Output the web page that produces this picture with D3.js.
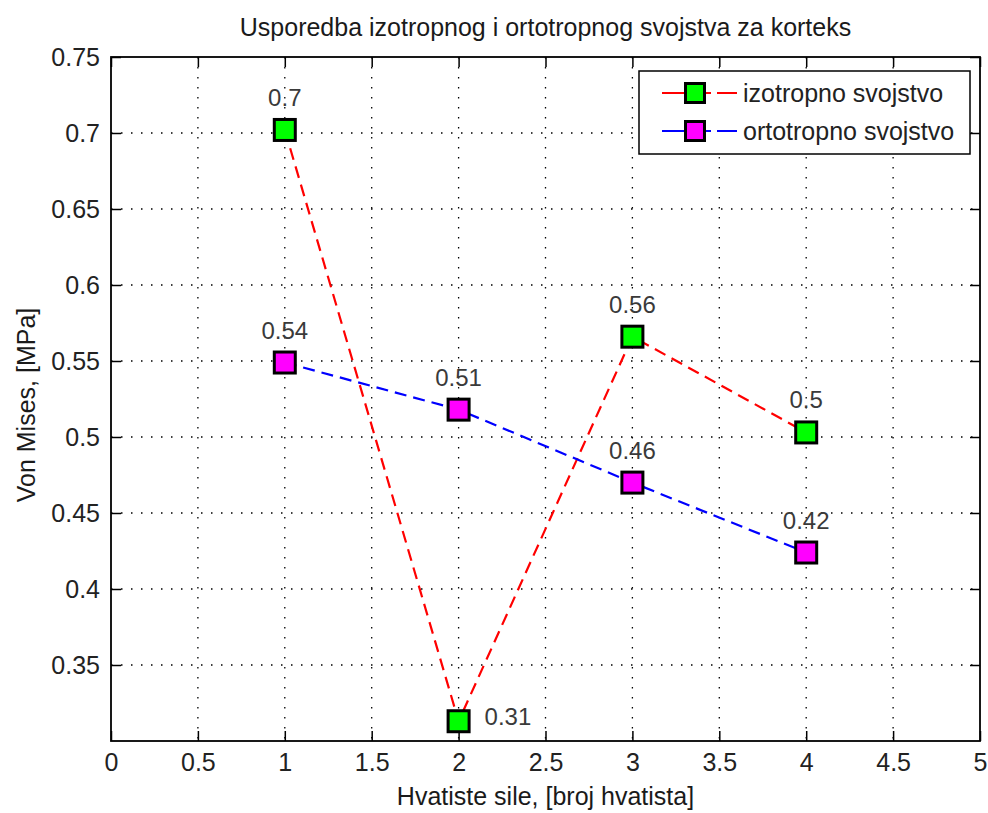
<!DOCTYPE html>
<html>
<head>
<meta charset="utf-8">
<script src="https://cdn.jsdelivr.net/npm/d3@7"></script>
<style>
  body { margin: 0; background: #fff; }
  text { font-family: "Liberation Sans", Arial, Helvetica, sans-serif; }
</style>
</head>
<body>
<div id="chart"></div>
<script>
// Data
const xs = [1, 2, 3, 4];
const izotropno = [0.702, 0.313, 0.566, 0.503];
const ortotropno = [0.549, 0.518, 0.470, 0.424];
const izoLabels = ["0.7", "0.31", "0.56", "0.5"];
const ortoLabels = ["0.54", "0.51", "0.46", "0.42"];
const xTicks = [0, 0.5, 1, 1.5, 2, 2.5, 3, 3.5, 4, 4.5, 5];
const yTicks = [0.35, 0.4, 0.45, 0.5, 0.55, 0.6, 0.65, 0.7, 0.75];
const seriesNames = ["izotropno svojstvo", "ortotropno svojstvo"];

const W = 988, H = 813;
const margin = { top: 57, right: 8, bottom: 72, left: 111 };
const width = W - margin.left - margin.right;
const height = H - margin.top - margin.bottom;

const x = d3.scaleLinear().domain([0, 5]).range([0, width]);
const y = d3.scaleLinear().domain([0.30, 0.75]).range([height, 0]);

const svg = d3.select("#chart").append("svg")
    .attr("width", W)
    .attr("height", H);

// Title
svg.append("text")
    .attr("x", margin.left + width / 2)
    .attr("y", 36)
    .attr("text-anchor", "middle")
    .style("font-size", "25px")
    .style("fill", "#1a1a1a")
    .text("Usporedba izotropnog i ortotropnog svojstva za korteks");

const g = svg.append("g")
    .attr("transform", `translate(${margin.left},${margin.top})`);

// Dotted grid
g.append("g").selectAll("line.gx")
  .data(xTicks.filter(t => t > 0 && t < 5))
  .join("line")
    .attr("x1", d => x(d)).attr("x2", d => x(d))
    .attr("y1", 0).attr("y2", height)
    .attr("stroke", "#000")
    .attr("stroke-width", 1.3)
    .attr("stroke-dasharray", "1.5,8.5");

g.append("g").selectAll("line.gy")
  .data(yTicks.filter(t => t < 0.75))
  .join("line")
    .attr("x1", 0).attr("x2", width)
    .attr("y1", d => y(d)).attr("y2", d => y(d))
    .attr("stroke", "#000")
    .attr("stroke-width", 1.3)
    .attr("stroke-dasharray", "1.5,8.5");

// Axes (ticks inward, on all four sides)
const tickLen = 10;
const fmt = d => String(d);

const xAxis = g.append("g")
    .attr("transform", `translate(0,${height})`)
    .call(d3.axisBottom(x).tickValues(xTicks).tickFormat(fmt).tickSizeInner(-tickLen).tickSizeOuter(0).tickPadding(12));
const xTop = g.append("g")
    .call(d3.axisTop(x).tickValues(xTicks).tickFormat("").tickSizeInner(-tickLen).tickSizeOuter(0));
const yAxis = g.append("g")
    .call(d3.axisLeft(y).tickValues(yTicks).tickFormat(fmt).tickSizeInner(-tickLen).tickSizeOuter(0).tickPadding(11));
const yRight = g.append("g")
    .attr("transform", `translate(${width},0)`)
    .call(d3.axisRight(y).tickValues(yTicks).tickFormat("").tickSizeInner(-tickLen).tickSizeOuter(0));

[xAxis, xTop, yAxis, yRight].forEach(a => {
  a.select(".domain").remove();
  a.selectAll("line").attr("stroke", "#000").attr("stroke-width", 1.5);
  a.selectAll("text").style("font-size", "25px").style("fill", "#222")
    .style("font-family", "'Liberation Sans', Arial, sans-serif");
});

// Axes box
g.append("rect")
    .attr("x", 0).attr("y", 0)
    .attr("width", width).attr("height", height)
    .attr("fill", "none")
    .attr("stroke", "#000")
    .attr("stroke-width", 1.8);

// Axis labels
svg.append("text")
    .attr("x", margin.left + width / 2)
    .attr("y", 805)
    .attr("text-anchor", "middle")
    .style("font-size", "25px")
    .style("fill", "#1a1a1a")
    .text("Hvatiste sile, [broj hvatista]");

svg.append("text")
    .attr("transform", `translate(35,${margin.top + height / 2 + 6}) rotate(-90)`)
    .attr("text-anchor", "middle")
    .style("font-size", "25px")
    .style("fill", "#1a1a1a")
    .text("Von Mises, [MPa]");

// Series
const series = [
  { values: izotropno, labels: izoLabels, line: "#ff0000", fill: "#00ff00" },
  { values: ortotropno, labels: ortoLabels, line: "#0000ff", fill: "#ff00ff" }
];

const line = d3.line()
    .x((d, i) => x(xs[i]))
    .y(d => y(d));

const mSize = 21;

series.forEach(s => {
  g.append("path")
    .datum(s.values)
    .attr("fill", "none")
    .attr("stroke", s.line)
    .attr("stroke-width", 2.2)
    .attr("stroke-dasharray", "12,7")
    .attr("d", line);
});

series.forEach(s => {
  g.append("g").selectAll("rect")
    .data(s.values)
    .join("rect")
      .attr("x", (d, i) => x(xs[i]) - mSize / 2)
      .attr("y", d => y(d) - mSize / 2)
      .attr("width", mSize)
      .attr("height", mSize)
      .attr("fill", s.fill)
      .attr("stroke", "#000")
      .attr("stroke-width", 3);
});

// Value labels
const lowest = d3.min(series, s => d3.min(s.values));
series.forEach(s => {
  g.append("g").selectAll("text")
    .data(s.values)
    .join("text")
      .attr("x", (d, i) => d === lowest ? x(xs[i]) + 26 : x(xs[i]))
      .attr("y", d => d === lowest ? y(d) + 4 : y(d) - 24)
      .attr("text-anchor", d => d === lowest ? "start" : "middle")
      .style("font-size", "24px")
      .style("fill", "#3a3a3a")
      .text((d, i) => s.labels[i]);
});

// Legend
const lg = svg.append("g").attr("transform", "translate(639,71)");
lg.append("rect")
    .attr("width", 331).attr("height", 83)
    .attr("fill", "#fff")
    .attr("stroke", "#000")
    .attr("stroke-width", 1.5);

series.forEach((s, i) => {
  const ry = 22 + i * 38;
  lg.append("line")
    .attr("x1", 23).attr("x2", 98)
    .attr("y1", ry).attr("y2", ry)
    .attr("stroke", s.line)
    .attr("stroke-width", 2.2)
    .attr("stroke-dasharray", "49,6,20");
  lg.append("rect")
    .attr("x", 56 - 9.5).attr("y", ry - 9.5)
    .attr("width", 19).attr("height", 19)
    .attr("fill", s.fill)
    .attr("stroke", "#000")
    .attr("stroke-width", 3);
  lg.append("text")
    .attr("x", 104)
    .attr("y", ry + 9)
    .style("font-size", "25px")
    .style("fill", "#222")
    .text(seriesNames[i]);
});
</script>
</body>
</html>
